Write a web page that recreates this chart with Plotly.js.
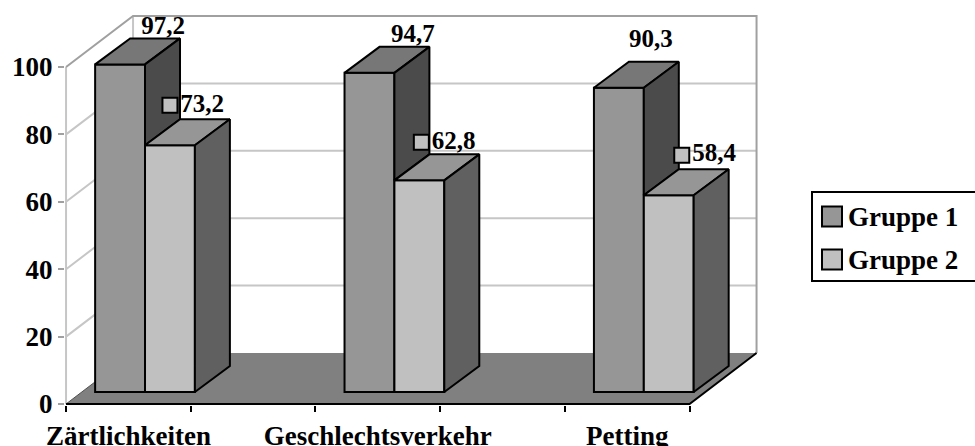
<!DOCTYPE html>
<html>
<head>
<meta charset="utf-8">
<script src="https://cdn.plot.ly/plotly-3.0.1.min.js"></script>
<style>html,body{margin:0;padding:0;background:#fff;overflow:hidden}</style>
</head>
<body>
<div id="chart" style="width:975px;height:446px"></div>
<script>
// ---- data ----
const categories = ["Zärtlichkeiten", "Geschlechtsverkehr", "Petting"];
const seriesNames = ["Gruppe 1", "Gruppe 2"];
const gruppe1 = [97.2, 94.7, 90.3];
const gruppe2 = [73.2, 62.8, 58.4];
const labels1 = ["97,2", "94,7", "90,3"];
const labels2 = ["73,2", "62,8", "58,4"];
const yTicks = [0, 20, 40, 60, 80, 100];

// ---- layout constants ----
const W = 975, H = 446;
const plot = {l: 65, r: 759, t: 14, b: 405};
const pxX = 249.4, pxY = 3.37;           // pixels per data unit
const xRange = [-0.2542, -0.2542 + (plot.r - plot.l) / pxX];
const yRange = [-0.3, -0.3 + (plot.b - plot.t) / pxY];
const dX = p => p / pxX, dY = p => p / pxY;
const wall = {x: dX(67), y: dY(51), left: -0.25, right: 2.25, top: 100};
const depth = {x: dX(35), y: dY(26)};
const lift = dY(12);
const barW = 0.2, groupMid = 0.0666;
const font = '"Liberation Serif", "Times New Roman", serif';
const colors = {
  g1: {front: '#969696', top: '#777777', side: '#4b4b4b'},
  g2: {front: '#c0c0c0', top: '#969696', side: '#606060'},
  floor: '#808080', grid: '#c6c6c6', frame: '#a0a0a0'
};
// label placement relative to the bar's front top centre, in pixels
const label1Offset = [[43, 37], [43.5, 37], [32, 47]];
const label2Offset = [[0, 40], [2, 38], [13, 40]];

// ---- helpers ----
const paperX = p => (p - plot.l) / (plot.r - plot.l);
const paperY = p => 1 - (p - plot.t) / (plot.b - plot.t);
const path = pts => 'M' + pts.map(p => p[0] + ',' + p[1]).join('L');
const poly = pts => path(pts) + 'Z';
const line = (pts, color, width) => ({type: 'path', xref: 'x', yref: 'y', layer: 'below', path: path(pts), line: {color, width}});

// ---- walls and floor, behind all the bars ----
const shapes = [];
shapes.push({type: 'path', xref: 'x', yref: 'y', layer: 'below',
  path: poly([[wall.left, 0], [wall.left + wall.x, wall.y], [wall.right + wall.x, wall.y], [wall.right, 0]]),
  fillcolor: colors.floor, line: {width: 0}});
yTicks.filter(v => v > 0 && v < 100).forEach(v => {
  shapes.push(line([[wall.left, v], [wall.left + wall.x, v + wall.y], [wall.right + wall.x, v + wall.y]], colors.grid, 2));
});
shapes.push(line([[wall.left, 0], [wall.left, wall.top]], colors.grid, 2));
shapes.push(line([[wall.left + wall.x, wall.y], [wall.left + wall.x, wall.top + wall.y]], colors.grid, 2));
shapes.push(line([[wall.left, wall.top], [wall.left + wall.x, wall.top + wall.y], [wall.right + wall.x, wall.top + wall.y], [wall.right + wall.x, wall.y]], colors.frame, 2));
shapes.push(line([[wall.left, 0], [wall.left + wall.x, wall.y]], '#505050', 1));
shapes.push(line([[wall.left, 0], [wall.right, 0], [wall.right + wall.x, wall.y]], '#000000', 2));

// ---- traces ----
const traces = [];
const x1 = categories.map((c, i) => i + groupMid - barW / 2);
const x2 = categories.map((c, i) => i + groupMid + barW / 2);
const bar = (name, x, y, c) => ({type: 'bar', name, x, y, base: y.map(() => lift), width: barW,
  marker: {color: c.front, line: {color: '#000', width: 2}}, showlegend: false, hoverinfo: 'name+y'});
traces.push(bar(seriesNames[0], x1, gruppe1, colors.g1));
traces.push(bar(seriesNames[1], x2, gruppe2, colors.g2));

const face = (pts, color) => ({type: 'scatter', mode: 'lines', x: pts.map(p => p[0]), y: pts.map(p => p[1]),
  fill: 'toself', fillcolor: color, line: {color: '#000', width: 2}, showlegend: false, hoverinfo: 'skip', cliponaxis: false});

categories.forEach((c, i) => {
  const top1 = gruppe1[i] + lift, top2 = gruppe2[i] + lift;
  const a = x1[i] - barW / 2, m = x1[i] + barW / 2, b = x2[i] + barW / 2;
  traces.push(face([[a, top1], [m, top1], [m + depth.x, top1 + depth.y], [a + depth.x, top1 + depth.y], [a, top1]], colors.g1.top));
  traces.push(face([[m, top1], [m + depth.x, top1 + depth.y], [m + depth.x, top2 + depth.y], [m, top2], [m, top1]], colors.g1.side));
  traces.push(face([[m, top2], [b, top2], [b + depth.x, top2 + depth.y], [m + depth.x, top2 + depth.y], [m, top2]], colors.g2.top));
  traces.push(face([[b, top2], [b + depth.x, top2 + depth.y], [b + depth.x, lift + depth.y], [b, lift], [b, top2]], colors.g2.side));
});

const labelFont = {family: font, size: 25, color: '#000', weight: 'bold'};
traces.push({type: 'scatter', mode: 'text', name: seriesNames[0] + ' Werte',
  x: x1.map((v, i) => v + dX(label1Offset[i][0])),
  y: gruppe1.map((v, i) => v + lift + dY(label1Offset[i][1])),
  text: labels1, textposition: 'middle center', textfont: labelFont,
  showlegend: false, hoverinfo: 'skip', cliponaxis: false});
traces.push({type: 'scatter', mode: 'markers+text', name: seriesNames[1] + ' Werte',
  x: x2.map((v, i) => v + dX(label2Offset[i][0])),
  y: gruppe2.map((v, i) => v + lift + dY(label2Offset[i][1])),
  text: labels2, textposition: 'middle right', textfont: labelFont,
  marker: {symbol: 'square', size: 15, color: colors.g2.front, line: {color: '#000', width: 2}},
  showlegend: false, hoverinfo: 'skip', cliponaxis: false});

// ---- legend, drawn in pixel-placed paper coordinates ----
const legendBox = {l: 812, t: 192, r: 985, b: 281};
shapes.push({type: 'rect', xref: 'paper', yref: 'paper', x0: paperX(legendBox.l), x1: paperX(legendBox.r),
  y0: paperY(legendBox.t), y1: paperY(legendBox.b), line: {color: '#000', width: 2}, fillcolor: '#fff', layer: 'above'});
const keyRows = [216.5, 259.5];
const keyColors = [colors.g1.front, colors.g2.front];
const annotations = [];
seriesNames.forEach((n, i) => {
  shapes.push({type: 'rect', xref: 'paper', yref: 'paper', x0: paperX(822), x1: paperX(842),
    y0: paperY(keyRows[i] - 10), y1: paperY(keyRows[i] + 10), line: {color: '#000', width: 2}, fillcolor: keyColors[i], layer: 'above'});
  annotations.push({xref: 'paper', yref: 'paper', x: paperX(846), y: paperY(keyRows[i]), xanchor: 'left', yanchor: 'middle',
    showarrow: false, text: n, font: {family: font, size: 27, color: '#000', weight: 'bold'}});
});

const tickFont = {family: font, size: 27, color: '#000', weight: 'bold'};
const layout = {
  width: W, height: H,
  margin: {l: plot.l, r: W - plot.r, t: plot.t, b: H - plot.b, pad: 0},
  paper_bgcolor: '#fff', plot_bgcolor: '#fff',
  showlegend: false, barmode: 'overlay', bargap: 0,
  xaxis: {type: 'linear', range: xRange, tickmode: 'array', tickvals: categories.map((c, i) => i), ticktext: categories,
    ticks: '', ticklen: 0, showgrid: false, zeroline: false, showline: false, tickfont: tickFont, ticklabelstandoff: 12, automargin: false,
    minor: {ticks: 'outside', ticklen: 6, tickwidth: 2, tickcolor: '#000', tick0: -0.25, dtick: 0.5, showgrid: false}},
  yaxis: {range: yRange, tickmode: 'array', tickvals: yTicks, ticktext: yTicks.map(String),
    ticks: 'outside', ticklen: 6, tickwidth: 2, tickcolor: '#a0a0a0', showgrid: false, zeroline: false, showline: false, tickfont: tickFont, automargin: false},
  shapes, annotations
};
Plotly.newPlot('chart', traces, layout, {displayModeBar: false, staticPlot: true});
</script>
</body>
</html>
